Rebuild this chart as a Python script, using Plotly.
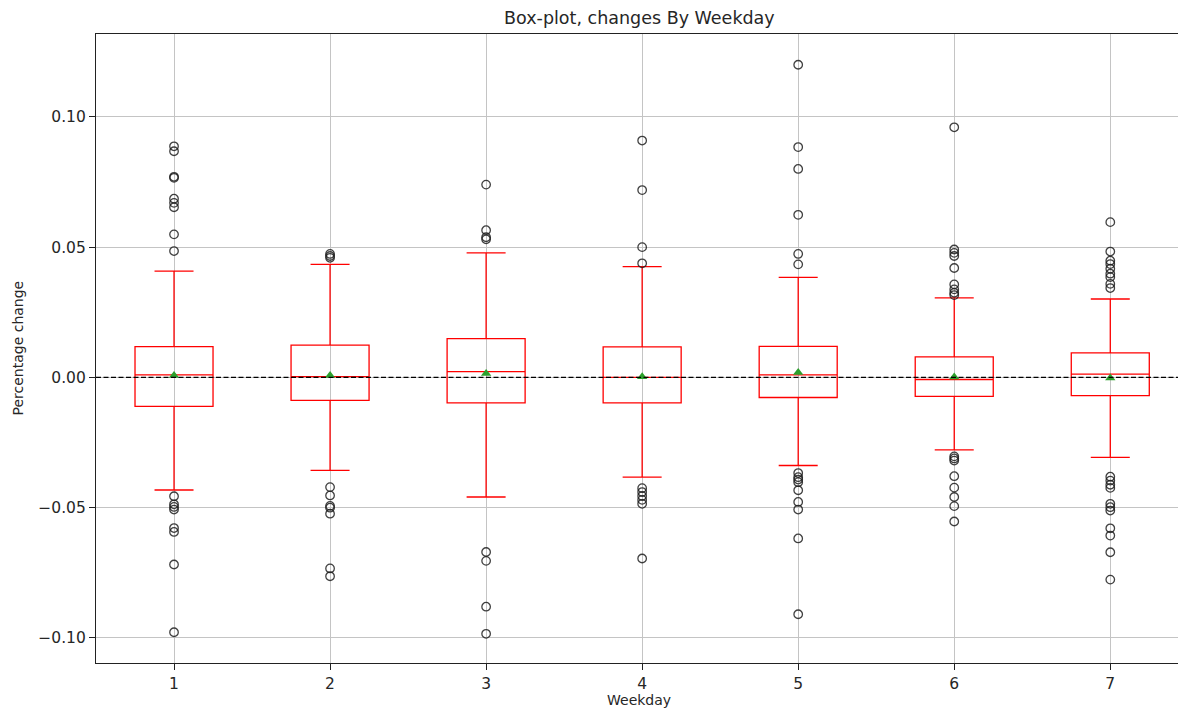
import plotly.graph_objects as go

weekdays = [1, 2, 3, 4, 5, 6, 7]
q1 = [-0.0111, -0.0088, -0.0098, -0.0098, -0.0077, -0.0073, -0.0070]
median = [0.0010, 0.0003, 0.0022, 0.0000, 0.0010, -0.0008, 0.0013]
q3 = [0.0118, 0.0124, 0.0149, 0.0117, 0.0119, 0.0079, 0.0094]
lower_whisker = [-0.0432, -0.0357, -0.0459, -0.0383, -0.0338, -0.0278, -0.0307]
upper_whisker = [0.0408, 0.0434, 0.0478, 0.0425, 0.0384, 0.0305, 0.0301]
means = [0.0007, 0.0007, 0.0015, 0.0003, 0.0019, 0.0002, -0.0002]

outliers = {
    1: [0.0887, 0.0868, 0.0770, 0.0766, 0.0686, 0.0670, 0.0653, 0.0549, 0.0485,
        -0.0456, -0.0487, -0.0497, -0.0507, -0.0578, -0.0593, -0.0718, -0.0978],
    2: [0.0474, 0.0466, 0.0459,
        -0.0421, -0.0453, -0.0493, -0.0500, -0.0523, -0.0733, -0.0763],
    3: [0.0740, 0.0565, 0.0538, 0.0530,
        -0.0670, -0.0704, -0.0880, -0.0984],
    4: [0.0909, 0.0719, 0.0500, 0.0438,
        -0.0425, -0.0440, -0.0455, -0.0470, -0.0485, -0.0695],
    5: [0.1200, 0.0884, 0.0800, 0.0624, 0.0474, 0.0434,
        -0.0367, -0.0383, -0.0392, -0.0402, -0.0433, -0.0478, -0.0507, -0.0618, -0.0909],
    6: [0.0960, 0.0491, 0.0478, 0.0466, 0.0420, 0.0357, 0.0338, 0.0325, 0.0316,
        -0.0303, -0.0311, -0.0319, -0.0379, -0.0423, -0.0459, -0.0494, -0.0553],
    7: [0.0596, 0.0483, 0.0448, 0.0435, 0.0417, 0.0398, 0.0385, 0.0359, 0.0343,
        -0.0381, -0.0396, -0.0412, -0.0424, -0.0485, -0.0498, -0.0511, -0.0579,
        -0.0607, -0.0671, -0.0776],
}

y_tickvals = [-0.10, -0.05, 0.00, 0.05, 0.10]
y_ticktext = ["\u22120.10", "\u22120.05", "0.00", "0.05", "0.10"]
x_ticktext = ["1", "2", "3", "4", "5", "6", "7"]

FONT = "DejaVu Sans"
TXT = "#262626"

fig = go.Figure()

fig.add_trace(go.Box(
    x=weekdays, q1=q1, median=median, q3=q3,
    lowerfence=lower_whisker, upperfence=upper_whisker,
    width=0.5, whiskerwidth=0.5, boxpoints=False,
    line=dict(color="red", width=1.3), fillcolor="rgba(0,0,0,0)",
    showlegend=False, hoverinfo="skip",
))

ox, oy = [], []
for k in weekdays:
    for v in outliers[k]:
        ox.append(k)
        oy.append(v)
fig.add_trace(go.Scatter(
    x=ox, y=oy, mode="markers",
    marker=dict(symbol="circle-open", size=8.5, color="rgba(30,30,30,0.85)",
                line=dict(width=1.3)),
    showlegend=False,
))

fig.add_trace(go.Scatter(
    x=weekdays, y=means, mode="markers",
    marker=dict(symbol="triangle-up", size=9, color="#2ca02c"),
    showlegend=False,
))

fig.add_shape(type="line", xref="paper", yref="y", x0=0, x1=1, y0=0, y1=0,
              line=dict(color="black", width=1.2, dash="5px,2.5px"), layer="above")

fig.update_layout(
    width=1178, height=709,
    margin=dict(l=96, r=0, t=34, b=46),
    paper_bgcolor="white", plot_bgcolor="white",
    font=dict(family=FONT, color=TXT),
    title=dict(text="Box-plot, changes By Weekday", x=0.5022, xref="paper",
               y=1 - 18 / 709, yref="container", yanchor="middle", xanchor="center",
               font=dict(size=17.5, family=FONT, color=TXT)),
    xaxis=dict(range=[0.5, 7.434], tickvals=weekdays, ticktext=x_ticktext,
               showgrid=True, gridcolor="#c4c4c4", gridwidth=1,
               showline=True, linecolor="#222", linewidth=1.2, mirror=True,
               ticks="outside", ticklen=6, tickcolor="#222",
               tickfont=dict(size=15.5, family=FONT, color=TXT), zeroline=False),
    yaxis=dict(range=[-0.1096, 0.1318], tickvals=y_tickvals, ticktext=y_ticktext,
               showgrid=True, gridcolor="#c4c4c4", gridwidth=1,
               showline=True, linecolor="#222", linewidth=1.2, mirror=False,
               ticks="outside", ticklen=6, tickcolor="#222",
               tickfont=dict(size=15.5, family=FONT, color=TXT), zeroline=False),
)

fig.add_annotation(text="Percentage change", xref="paper", yref="paper",
                   x=0, y=0.5, xshift=-79, textangle=-90, showarrow=False,
                   xanchor="center", yanchor="middle",
                   font=dict(size=14, family=FONT, color=TXT))
fig.add_annotation(text="Weekday", xref="paper", yref="paper",
                   x=0.5022, y=0, yshift=-37, showarrow=False,
                   xanchor="center", yanchor="middle",
                   font=dict(size=14, family=FONT, color=TXT))

fig.write_html("out.html")
